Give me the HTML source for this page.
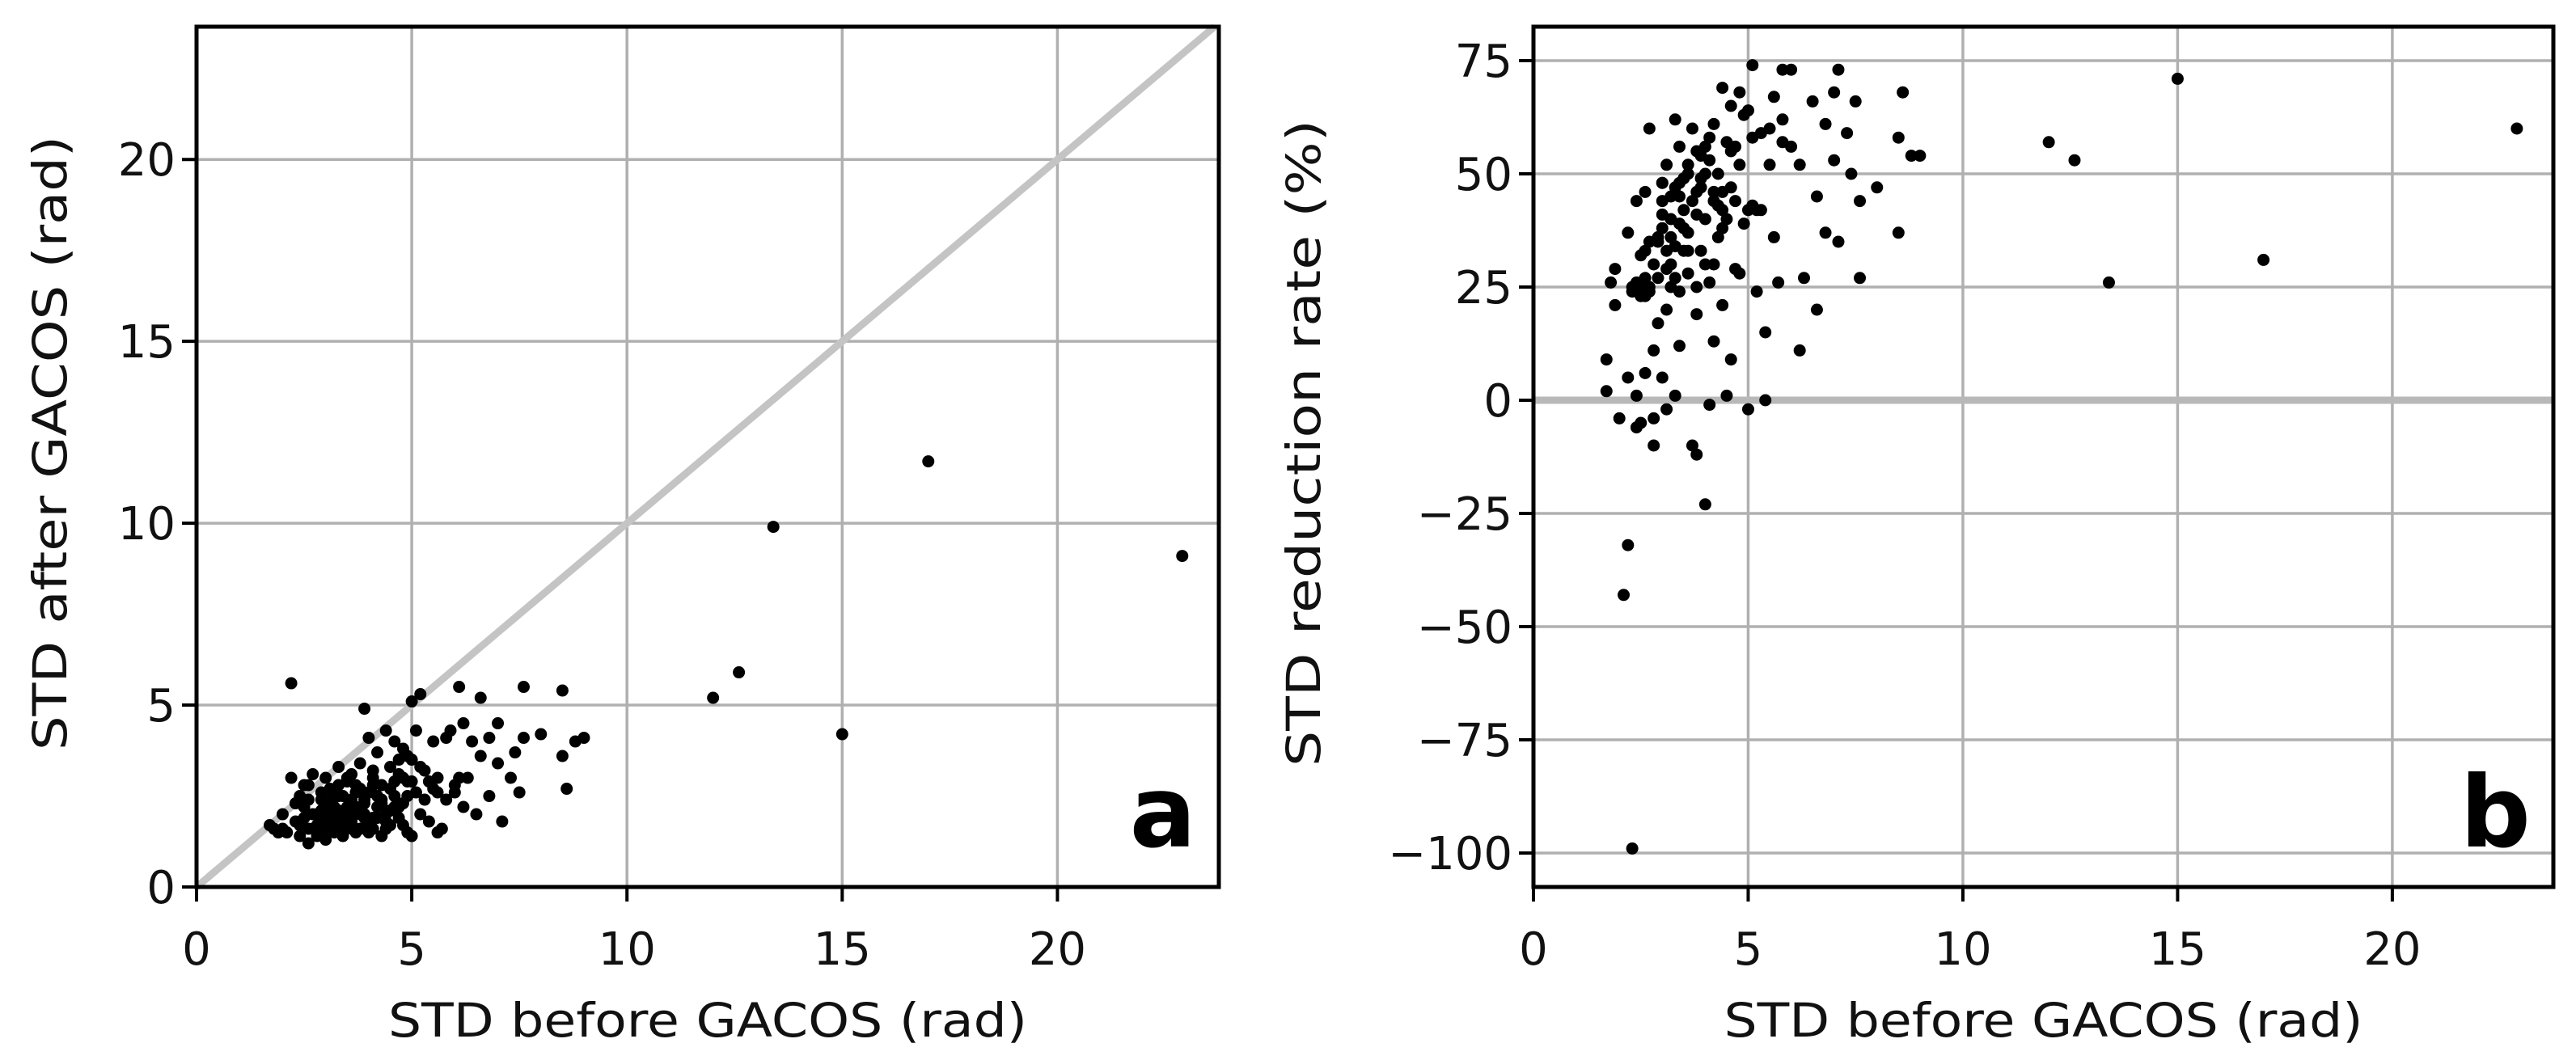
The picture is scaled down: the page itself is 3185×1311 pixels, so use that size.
<!DOCTYPE html>
<html><head><meta charset="utf-8"><style>
html,body{margin:0;padding:0;background:#fff;}
svg{display:block;font-family:"DejaVu Sans","Liberation Sans",sans-serif;}
</style></head><body>
<svg id="fig" width="3185" height="1311" viewBox="0 0 3185 1311" xmlns="http://www.w3.org/2000/svg">
<rect width="3185" height="1311" fill="#fff"/>
<g id="pa"></g>
<g id="pb"></g>
</svg>
<script>
// Panel a data: STD before vs after GACOS (rad)
const aBefore = [22.9,17.0,15.0,13.4,12.6,12.0,9.0,8.8,8.6,8.5,8.5,8.0,7.6,7.6,7.5,7.4,7.3,7.1,7.0,7.0,6.8,6.8,6.6,6.6,6.5,6.4,6.2,6.2,6.1,6.1,6.0,5.9,5.8,5.8,5.7,5.6,5.6,5.5,5.5,5.4,5.3,5.3,5.2,5.2,5.1,5.1,5.0,5.0,5.0,4.9,4.9,4.8,4.8,4.8,4.7,4.7,4.6,4.6,4.5,4.5,4.5,4.4,4.4,4.4,4.3,4.3,4.2,4.2,4.2,4.1,4.1,4.1,4.0,4.0,4.0,3.9,3.9,3.9,3.8,3.8,3.7,3.7,3.7,3.6,3.6,3.6,3.5,3.5,3.5,3.4,3.4,3.3,3.3,3.3,3.2,3.2,3.2,3.1,3.1,3.0,3.0,3.0,3.0,2.9,2.9,2.9,2.8,2.8,2.7,2.7,2.6,2.6,2.6,2.5,2.5,2.4,2.4,2.3,2.3,2.2,2.2,2.1,2.0,2.0,1.9,1.8,1.7,3.4,3.8,4.3,2.8,3.1,3.6,4.6,4.9,5.4,2.5,3.9,
  2.9,3.1,3.3,3.5,3.7,3.9,4.1,4.3,4.5,4.7,4.9,2.7,3.0,3.2,3.4,3.6,3.8,4.0,4.2,4.4,2.4,2.6,2.8,3.0,3.2,3.4,3.6,3.8,4.0,4.6,4.8,5.0,5.2,5.6,6.0,6.3,3.5,4.1,4.7,3.3];
const aAfter  = [9.1,11.7,4.2,9.9,5.9,5.2,4.1,4.0,2.7,5.4,3.6,4.2,5.5,4.1,2.6,3.7,3.0,1.8,4.5,3.4,4.1,2.5,3.6,5.2,2.0,4.0,2.2,4.5,5.5,3.0,2.8,4.3,2.4,4.1,1.6,3.0,1.5,2.7,4.0,1.8,3.2,2.4,5.3,2.0,2.6,4.3,5.1,1.4,3.5,1.5,2.9,2.3,3.8,1.7,1.9,3.1,2.5,4.0,3.3,1.7,2.1,4.3,2.0,1.6,1.4,2.8,2.2,3.7,2.5,1.6,3.0,1.9,2.6,4.1,1.5,4.9,1.9,2.4,3.4,2.1,2.8,1.5,2.2,1.7,2.4,2.0,2.0,3.0,1.6,2.5,1.4,3.3,1.8,2.1,1.5,2.2,2.6,1.9,2.7,2.3,1.3,3.0,1.7,2.6,1.7,2.1,2.0,1.4,1.6,3.1,1.2,2.8,2.4,2.2,1.9,2.5,1.4,1.8,2.3,3.0,5.6,1.5,2.0,1.6,1.5,1.6,1.7,1.8,2.7,2.3,2.0,2.4,3.1,2.2,3.6,2.9,2.8,2.0,
  2.4,2.1,2.5,2.2,2.6,2.3,2.8,2.4,2.7,2.2,2.5,2.0,1.9,2.0,1.9,1.8,2.0,1.8,1.9,1.8,1.7,1.6,1.7,1.6,1.7,1.6,1.7,1.6,1.8,2.9,3.0,2.9,3.3,2.6,2.6,3.0,2.9,3.2,3.5,2.8];
// Panel b data: STD before (rad) vs reduction rate (%)
const bBefore = [1.7,1.7,1.8,1.9,1.9,2.0,2.1,2.2,2.2,2.2,2.3,2.3,2.4,2.4,2.4,2.5,2.5,2.6,2.6,2.6,2.7,2.7,2.8,2.8,2.8,2.9,2.9,3.0,3.0,3.0,3.1,3.1,3.1,3.2,3.2,3.3,3.3,3.3,3.4,3.4,3.4,3.5,3.5,3.6,3.6,3.7,3.7,3.8,3.8,3.8,3.9,3.9,4.0,4.0,4.1,4.1,4.1,4.2,4.2,4.3,4.3,4.4,4.4,4.5,4.5,4.6,4.6,4.7,4.7,4.8,4.8,4.9,5.0,5.0,5.1,5.1,5.2,5.3,5.4,5.4,5.5,5.6,5.6,5.7,5.8,5.8,6.0,6.0,6.2,6.2,6.3,6.5,6.6,6.6,6.8,6.8,7.0,7.0,7.1,7.1,7.3,7.4,7.5,7.6,7.6,8.0,8.5,8.5,8.6,8.8,9.0,12.0,12.6,13.4,15.0,17.0,22.9,3.0,3.2,3.5,3.6,3.9,4.0,4.2,2.9,3.3,2.7,3.8,4.4,4.6,5.2,3.1,2.5,3.4,4.8,
  2.4,2.6,2.8,3.0,3.2,3.4,3.6,3.8,4.0,4.2,4.4,4.6,2.5,2.7,2.9,3.1,3.3,3.5,3.7,3.9,4.1,4.3,4.5,4.7,4.9,5.1,5.3,5.5,3.2,3.6,4.0,4.4,2.3,2.6,3.0,3.4,3.8,4.2,5.0,5.8];
const bRate   = [9,2,26,21,29,-4,-43,-32,37,5,-99,24,-6,44,1,32,-5,46,23,6,60,35,-10,-4,11,27,17,48,5,38,52,-2,20,30,45,62,1,34,56,24,12,42,49,28,37,60,-10,-12,46,19,54,33,-23,40,58,-1,26,61,13,50,36,69,21,1,57,65,9,44,29,68,52,39,-2,64,74,43,24,59,15,0,52,67,36,26,73,62,73,56,52,11,27,66,45,20,61,37,68,53,35,73,59,50,66,27,44,47,58,37,68,54,54,57,53,26,71,31,60,44,40,33,50,47,30,44,35,27,24,25,38,55,42,33,25,48,28,
  26,33,30,41,36,45,52,41,56,30,42,47,23,25,36,29,47,38,44,49,53,43,40,56,63,58,42,60,25,33,50,46,25,27,48,39,55,46,42,57];
const xTicks = [0,5,10,15,20];
const aYTicks = [0,5,10,15,20];
const bYTicks = [75,50,25,0,-25,-50,-75,-100];
const bYTickLabels = ["75","50","25","0","\u221225","\u221250","\u221275","\u2212100"];

const NS = "http://www.w3.org/2000/svg";
function mk(parent, tag, attrs, text){
  const e = document.createElementNS(NS, tag);
  for (const k in attrs) e.setAttribute(k, attrs[k]);
  if (text !== undefined) e.textContent = text;
  parent.appendChild(e);
  return e;
}
function scale(d0,d1,r0,r1){ return v => r0 + (v-d0)/(d1-d0)*(r1-r0); }

function panel(g, o){
  const sx = scale(o.xmin,o.xmax,o.L,o.R);
  const sy = scale(o.ymin,o.ymax,o.B,o.T);
  xTicks.forEach(t=>{
    const l = mk(g,'line',{x1:sx(t),x2:sx(t),y1:o.T,y2:o.B,stroke:'#b0b0b0','stroke-width':3.5});
    
    
  });
  o.yTicks.forEach(t=>{
    const l = mk(g,'line',{x1:o.L,x2:o.R,y1:sy(t),y2:sy(t),stroke:'#b0b0b0','stroke-width':3.5});
    
    
  });
  if (o.ref==='diag'){
    const e = Math.min(o.xmax,o.ymax);
    const l = mk(g,'line',{x1:sx(0),y1:sy(0),x2:sx(e),y2:sy(e),stroke:'#c4c4c4','stroke-width':9});
    
    
  } else {
    const l = mk(g,'line',{x1:o.L,x2:o.R,y1:sy(0),y2:sy(0),stroke:'#b8b8b8','stroke-width':9});
    
    
  }
  o.xs.forEach((x,i)=>{
    const y = o.ys[i];
    if (y<o.ymin || y>o.ymax) return;
    const c = mk(g,'circle',{cx:sx(x),cy:sy(y),r:7.5,fill:'#000'});
    
    
  });
  const f = mk(g,'rect',{x:o.L,y:o.T,width:o.R-o.L,height:o.B-o.T,fill:'none',stroke:'#000','stroke-width':5});
  
  
  xTicks.forEach(t=>{
    mk(g,'line',{x1:sx(t),x2:sx(t),y1:o.B,y2:o.B+18,stroke:'#000','stroke-width':4});
    const tx = mk(g,'text',{x:sx(t),y:o.B+96,'text-anchor':'middle','font-size':56,fill:'#111'},String(t));
    
    
  });
  o.yTicks.forEach((t,i)=>{
    mk(g,'line',{x1:o.L-18,x2:o.L,y1:sy(t),y2:sy(t),stroke:'#000','stroke-width':4});
    const tx = mk(g,'text',{x:o.L-26,y:sy(t)+20,'text-anchor':'end','font-size':56,fill:'#111'},o.yLabels[i]);
    
    
  });
  const xt = mk(g,'text',{x:(o.L+o.R)/2,y:1282,'text-anchor':'middle','font-size':58,fill:'#111',textLength:790,lengthAdjust:'spacingAndGlyphs'},'STD before GACOS (rad)');
  
  
  const yt = mk(g,'text',{x:0,y:0,'text-anchor':'middle','font-size':58,fill:'#111',textLength:o.ylen,lengthAdjust:'spacingAndGlyphs',transform:`translate(${o.ytx},${o.yty}) rotate(-90)`},o.ytitle);
  
  
  const pl = mk(g,'text',{x:o.R-28,y:o.B-50,'text-anchor':'end','font-size':122,'font-weight':'bold',fill:'#000'},o.letter);
  
  
}

panel(document.getElementById('pa'),{
  L:243,R:1507,T:33,B:1097,xmin:0,xmax:23.75,ymin:0,ymax:23.65,
  yTicks:aYTicks,yLabels:aYTicks.map(String),xs:aBefore,ys:aAfter,ref:'diag',
  ytitle:'STD after GACOS (rad)',ytx:82,yty:548,ylen:760,letter:'a'
});
panel(document.getElementById('pb'),{
  L:1896,R:3157,T:33,B:1097,xmin:0,xmax:23.75,ymin:-107.5,ymax:82.5,
  yTicks:bYTicks,yLabels:bYTickLabels,xs:bBefore,ys:bRate,ref:'zero',
  ytitle:'STD reduction rate (%)',ytx:1632,yty:548,ylen:800,letter:'b'
});
</script>
</body></html>
